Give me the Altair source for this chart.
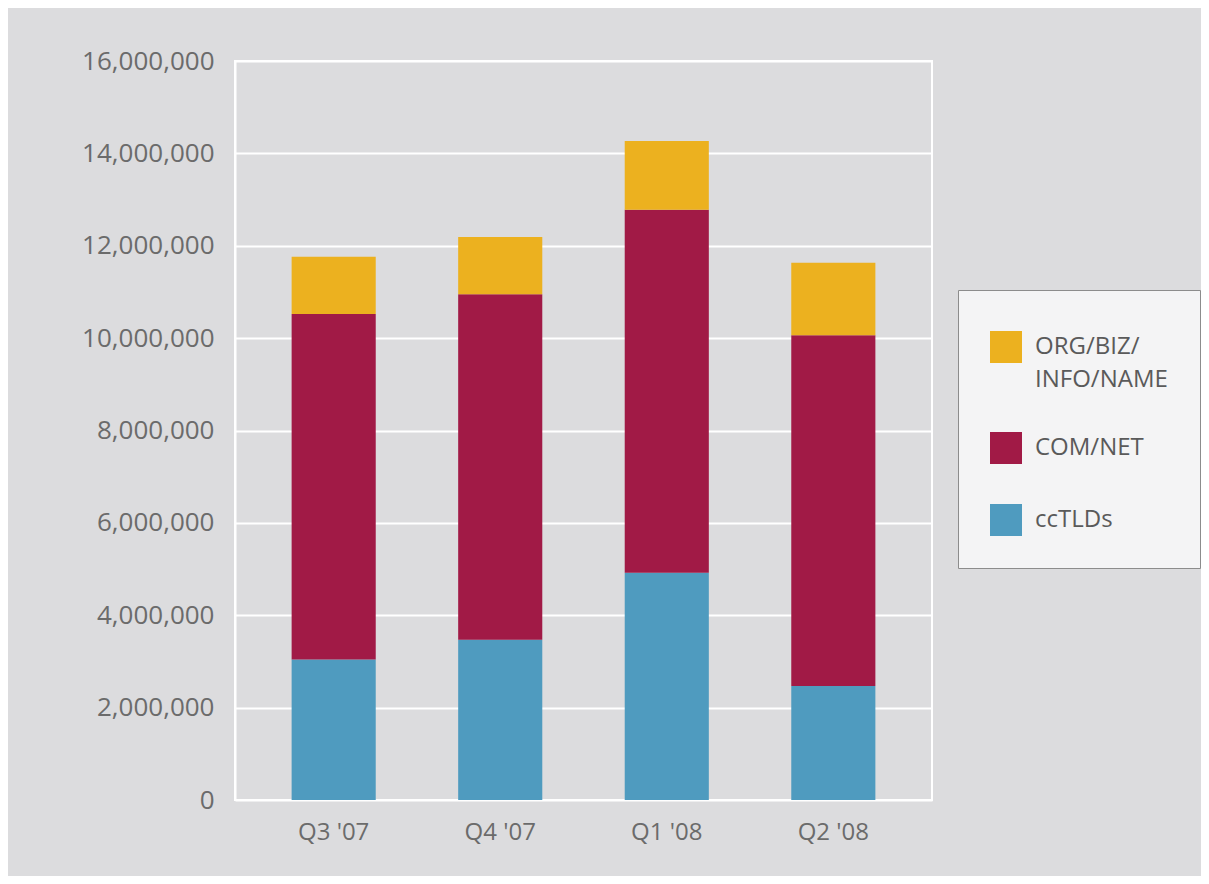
import altair as alt
import pandas as pd

quarters = ["Q3 '07", "Q4 '07", "Q1 '08", "Q2 '08"]
series = ["Org/Biz/Info/Name", "Com/Net", "ccTLDs"]
cctlds = [3040000, 3470000, 4920000, 2470000]
comnet = [7480000, 7480000, 7860000, 7590000]
orgbiz = [1240000, 1240000, 1490000, 1570000]
colors = ["#ecb11f", "#a11a46", "#4f9bbf"]
y_ticks = [0, 2000000, 4000000, 6000000, 8000000, 10000000, 12000000, 14000000, 16000000]

rows = []
for i, q in enumerate(quarters):
    rows.append({"quarter": q, "series": "ccTLDs", "value": cctlds[i], "stack": 0})
    rows.append({"quarter": q, "series": "Com/Net", "value": comnet[i], "stack": 1})
    rows.append({"quarter": q, "series": "Org/Biz/Info/Name", "value": orgbiz[i], "stack": 2})
df = pd.DataFrame(rows)

FONT = "Open Sans"
GREY = "#6b6b6b"

chart = alt.Chart(df).mark_bar().encode(
    x=alt.X("quarter:N", sort=quarters, title=None,
            scale=alt.Scale(paddingInner=0.495, paddingOuter=0.34),
            axis=alt.Axis(labelAngle=0, labelFont=FONT, labelFontSize=24,
                          labelColor=GREY, labelPadding=20, ticks=False,
                          domain=False, grid=False)),
    y=alt.Y("value:Q", stack="zero", title=None,
            scale=alt.Scale(domain=[0, 16000000], nice=False),
            axis=alt.Axis(values=y_ticks, format=",.0f", labelFont=FONT,
                          labelFontSize=26, labelColor=GREY, labelPadding=21,
                          ticks=False, domain=True, domainColor="white",
                          domainWidth=2, grid=True, gridColor="white",
                          gridWidth=2)),
    color=alt.Color("series:N", scale=alt.Scale(domain=series, range=colors),
                    legend=alt.Legend(
                        title=" ", titleFontSize=1, titlePadding=8,
                        orient="none", legendX=723, legendY=229,
                        symbolType="square", symbolSize=1024,
                        symbolStrokeWidth=0, padding=32,
                        fillColor="#f4f4f5", strokeColor="#8c8c8c",
                        labelFont=FONT, labelFontSize=24, labelColor="#5a5a5a",
                        labelOffset=13, labelLimit=400, rowPadding=40,
                        labelBaseline="middle",
                        labelExpr="datum.label == 'Org/Biz/Info/Name' ? ['ORG/BIZ/', 'INFO/NAME'] : upper(datum.label) == 'CCTLDS' ? 'ccTLDs' : upper(datum.label)")),
    order=alt.Order("stack:Q", sort="ascending"),
).properties(
    width=697,
    height=739,
    background="#dcdcde",
    padding={"left": 227, "top": 53, "right": 269, "bottom": 76},
    autosize=alt.AutoSizeParams(type="none"),
).configure(
    style={"guide-label": {"lineHeight": 33}}
).configure_view(
    stroke="white", strokeWidth=2
)

chart.save("out.html", embed_options={"renderer": "svg", "actions": False})
